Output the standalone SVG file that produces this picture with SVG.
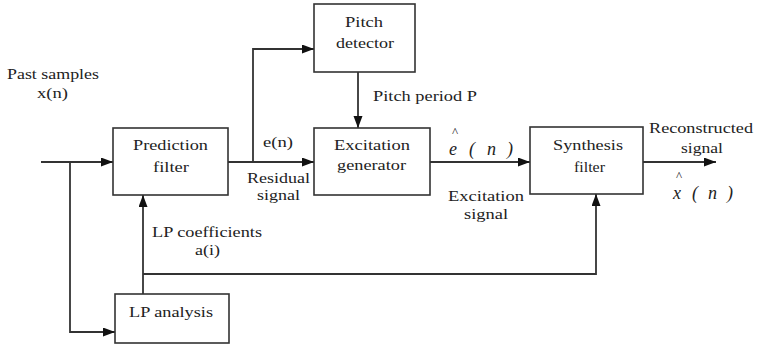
<svg xmlns="http://www.w3.org/2000/svg" width="760" height="345" viewBox="0 0 760 345">
  <style>
    .box { fill: #fff; stroke: #333; stroke-width: 1.6; }
    .wire { fill: none; stroke: #333; stroke-width: 1.8; }
    text { font-size: 15.5px; fill: #222; }
    .it { font-style: italic; font-size: 18px; }
    .hat { font-size: 13px; }
  </style>
  <defs>
    <marker id="arrow" markerUnits="userSpaceOnUse" markerWidth="13" markerHeight="10" refX="12" refY="4.5" orient="auto">
      <path d="M0,0 L12,4.5 L0,9 z" fill="#111"/>
    </marker>
  </defs>

  <rect width="760" height="345" fill="#fff"/>

  <!-- connectors -->
  <g id="connectors" class="wire" marker-end="url(#arrow)">
    <path d="M41,162 H113"/>
    <path d="M70,162 V332 H115"/>
    <path d="M143,294 V195"/>
    <path d="M143,274 H596 V194"/>
    <path d="M228,162 H314"/>
    <path d="M253,162 V49 H314"/>
    <path d="M358,72 V128"/>
    <path d="M430,162 H530"/>
    <path d="M643,162 H716"/>
  </g>

  <g font-family="'Liberation Serif', 'DejaVu Serif', 'Times New Roman', serif">
  <!-- blocks -->
  <g id="prediction-filter">
    <rect class="box" x="113" y="128" width="115" height="67"/>
    <text x="133" y="150" textLength="75" lengthAdjust="spacingAndGlyphs">Prediction</text>
    <text x="153" y="172" textLength="36" lengthAdjust="spacingAndGlyphs">filter</text>
  </g>
  <g id="pitch-detector">
    <rect class="box" x="314" y="4" width="101" height="68"/>
    <text x="345" y="27" textLength="38" lengthAdjust="spacingAndGlyphs">Pitch</text>
    <text x="336" y="48" textLength="58" lengthAdjust="spacingAndGlyphs">detector</text>
  </g>
  <g id="excitation-generator">
    <rect class="box" x="314" y="128" width="116" height="67"/>
    <text x="334" y="150" textLength="76" lengthAdjust="spacingAndGlyphs">Excitation</text>
    <text x="337" y="170" textLength="69" lengthAdjust="spacingAndGlyphs">generator</text>
  </g>
  <g id="synthesis-filter">
    <rect class="box" x="530" y="127" width="113" height="67"/>
    <text x="553" y="150" textLength="70" lengthAdjust="spacingAndGlyphs">Synthesis</text>
    <text x="574" y="172" textLength="31" lengthAdjust="spacingAndGlyphs">filter</text>
  </g>
  <g id="lp-analysis">
    <rect class="box" x="115" y="294" width="114" height="49"/>
    <text x="129" y="317" textLength="84" lengthAdjust="spacingAndGlyphs">LP analysis</text>
  </g>

  <!-- signal labels -->
  <g id="labels">
    <text x="7" y="79" textLength="92" lengthAdjust="spacingAndGlyphs">Past samples</text>
    <text x="37" y="98" textLength="31" lengthAdjust="spacingAndGlyphs">x(n)</text>
    <text x="373" y="101" textLength="104" lengthAdjust="spacingAndGlyphs">Pitch period P</text>
    <text x="263" y="147" textLength="30" lengthAdjust="spacingAndGlyphs">e(n)</text>
    <text x="247" y="183" textLength="63" lengthAdjust="spacingAndGlyphs">Residual</text>
    <text x="257" y="200" textLength="43" lengthAdjust="spacingAndGlyphs">signal</text>
    <text x="448" y="201" textLength="76" lengthAdjust="spacingAndGlyphs">Excitation</text>
    <text x="464" y="219" textLength="44" lengthAdjust="spacingAndGlyphs">signal</text>
    <text x="649" y="133" textLength="104" lengthAdjust="spacingAndGlyphs">Reconstructed</text>
    <text x="681" y="153" textLength="42" lengthAdjust="spacingAndGlyphs">signal</text>
    <text x="152" y="237" textLength="110" lengthAdjust="spacingAndGlyphs">LP coefficients</text>
    <text x="195" y="255" textLength="25" lengthAdjust="spacingAndGlyphs">a(i)</text>

    <!-- estimated excitation e^(n) -->
    <text class="hat" x="452" y="136">^</text>
    <text class="it" x="449" y="155">e</text>
    <text class="it" x="469" y="155">(</text>
    <text class="it" x="487" y="155">n</text>
    <text class="it" x="507" y="155">)</text>

    <!-- reconstructed output x^(n) -->
    <text class="hat" x="676" y="180">^</text>
    <text class="it" x="673" y="199">x</text>
    <text class="it" x="692" y="199">(</text>
    <text class="it" x="708" y="199">n</text>
    <text class="it" x="727" y="199">)</text>
  </g>
  </g>
</svg>
